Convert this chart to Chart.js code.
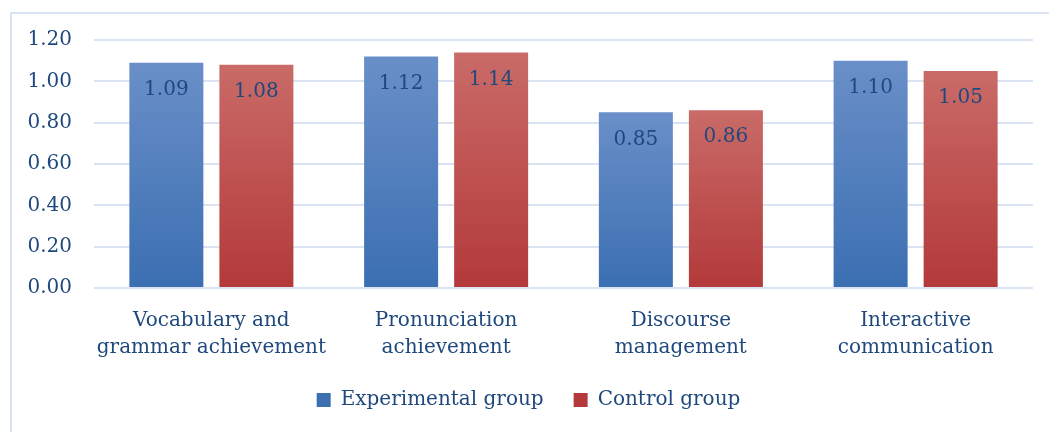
<!DOCTYPE html>
<html>
<head>
<meta charset="utf-8">
<script src="https://cdn.jsdelivr.net/npm/chart.js@4.4.1/dist/chart.umd.min.js"></script>
<style>
  html, body { margin: 0; padding: 0; background: #fff; overflow: hidden; }
  #frame {
    position: absolute; left: 10px; top: 12px; width: 1100px; height: 500px;
    border-left: 2px solid #d9e3f1; border-top: 2px solid #d9e3f1;
  }
  #wrap { position: absolute; left: 0; top: 0; width: 1049px; height: 432px; }
</style>
</head>
<body>
<div id="frame"></div>
<div id="wrap"><canvas id="scoreChart"></canvas></div>
<script>
// data
const categories = [
  ["Vocabulary and", "grammar achievement"],
  ["Pronunciation", "achievement"],
  ["Discourse", "management"],
  ["Interactive", "communication"],
];
const experimentalValues = [1.09, 1.12, 0.85, 1.10];
const controlValues = [1.08, 1.14, 0.86, 1.05];
const yTicks = [0, 0.2, 0.4, 0.6, 0.8, 1.0, 1.2];

const textColor = "#1f497d";
const fontFamily = "'DejaVu Serif', 'Liberation Serif', serif";

// per-bar vertical gradient, like the Office fill
const barGradient = (top, bottom, flat) => (context) => {
  const chart = context.chart;
  if (!chart.chartArea || context.raw === undefined) return flat;
  const y = chart.scales.y;
  const y0 = y.getPixelForValue(context.raw);
  const y1 = y.getPixelForValue(0);
  const g = chart.ctx.createLinearGradient(0, y0, 0, y1);
  g.addColorStop(0, top);
  g.addColorStop(1, bottom);
  return g;
};

// value labels inside the top of each bar
const valueLabels = {
  id: "valueLabels",
  afterDatasetsDraw(chart) {
    const ctx = chart.ctx;
    ctx.save();
    ctx.fillStyle = textColor;
    ctx.font = "20px " + fontFamily;
    ctx.textAlign = "center";
    ctx.textBaseline = "middle";
    chart.data.datasets.forEach((ds, i) => {
      chart.getDatasetMeta(i).data.forEach((bar, j) => {
        ctx.fillText(ds.data[j].toFixed(2), bar.x, bar.y + 27);
      });
    });
    ctx.restore();
  },
};

const ctx = document.getElementById("scoreChart").getContext("2d");
new Chart(ctx, {
  type: "bar",
  data: {
    labels: categories,
    datasets: [
      {
        label: "Experimental group",
        data: experimentalValues,
        backgroundColor: barGradient("#6a8fc8", "#3b6fb2", "#5080c0"),
        categoryPercentage: 0.767,
        barPercentage: 0.822,
      },
      {
        label: "Control group",
        data: controlValues,
        backgroundColor: barGradient("#c96b68", "#b3393a", "#c04f4d"),
        categoryPercentage: 0.767,
        barPercentage: 0.822,
      },
    ],
  },
  options: {
    responsive: true,
    maintainAspectRatio: false,
    animation: false,
    layout: { padding: { left: 24, right: 16, top: 40, bottom: 12 } },
    scales: {
      x: {
        grid: { display: false },
        border: { display: false },
        ticks: {
          color: textColor,
          font: { family: fontFamily, size: 20, lineHeight: 1.35 },
          padding: 11,
          maxRotation: 0,
          autoSkip: false,
        },
        afterFit: (scale) => { scale.height = 72; },
      },
      y: {
        min: 0,
        max: 1.2,
        afterBuildTicks: (scale) => {
          scale.ticks = yTicks.map((v) => ({ value: v }));
        },
        grid: { color: "#d9e3f1", lineWidth: 2, drawTicks: false },
        border: { display: false },
        ticks: {
          color: textColor,
          font: { family: fontFamily, size: 20 },
          padding: 22,
          callback: (v) => Number(v).toFixed(2),
        },
        afterFit: (scale) => { scale.width = 70; },
      },
    },
    plugins: {
      legend: {
        position: "bottom",
        labels: {
          color: textColor,
          font: { family: fontFamily, size: 20 },
          boxWidth: 14,
          boxHeight: 14,
          padding: 30,
        },
      },
      tooltip: { enabled: false },
    },
  },
  plugins: [valueLabels],
});
</script>
</body>
</html>
